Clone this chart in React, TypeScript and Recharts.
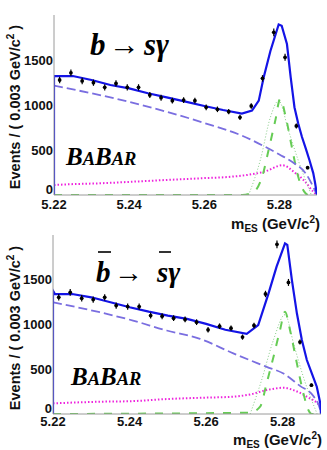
import React from 'react';
import { ComposedChart, Line, Scatter, ErrorBar, XAxis, YAxis } from 'recharts';

// bin centres, 0.003 GeV/c^2 wide
const binCenters = [
  5.2215, 5.2245, 5.2275, 5.2305, 5.2335, 5.2365, 5.2395, 5.2425, 5.2455, 5.2485, 5.2515, 5.2545,
  5.2575, 5.2605, 5.2635, 5.2665, 5.2695, 5.2725, 5.2755, 5.2785, 5.2815, 5.2845, 5.2875,
];
const topCounts = [
  1278, 1358, 1267, 1248, 1196, 1240, 1196, 1196, 1111, 1081, 1048, 1055,
  1048, 974, 952, 926, 863, 989, 1296, 1807, 1530, 767, 304,
];
const bottomCounts = [
  1304, 1359, 1293, 1278, 1304, 1211, 1200, 1200, 1100, 1093, 1070, 1056,
  1026, 941, 981, 959, 859, 989, 1341, 1896, 1470, 804, 322,
];
const countErrors = [
  36, 37, 36, 35, 35, 35, 35, 35, 33, 33, 32, 32,
  32, 31, 31, 30, 29, 31, 36, 43, 39, 28, 18,
];

// total fit
const topFitX = [5.22, 5.22, 5.225, 5.23, 5.235, 5.24, 5.245, 5.25, 5.255, 5.26, 5.265, 5.27, 5.2727, 5.2745, 5.2758, 5.2776, 5.2798, 5.2806, 5.282, 5.283, 5.284, 5.285, 5.286, 5.287, 5.288, 5.289, 5.2895, 5.29];
const topFitY = [0, 1320, 1322, 1278, 1222, 1185, 1130, 1085, 1037, 989, 944, 905, 938, 1048, 1306, 1600, 1895, 1880, 1677, 1306, 975, 795, 644, 518, 386, 243, 132, 0];
const bottomFitX = [5.22, 5.22, 5.2205, 5.225, 5.23, 5.235, 5.24, 5.245, 5.25, 5.255, 5.26, 5.265, 5.2706, 5.2736, 5.2763, 5.2784, 5.2806, 5.2812, 5.2824, 5.2837, 5.285, 5.2863, 5.2876, 5.2889, 5.2898, 5.29];
const bottomFitY = [0, 1378, 1340, 1341, 1304, 1248, 1193, 1144, 1100, 1063, 1007, 941, 896, 994, 1348, 1646, 1907, 1890, 1497, 1125, 827, 603, 455, 305, 123, 0];

// ARGUS combinatoric background
const topArgusX = [5.22, 5.23, 5.24, 5.25, 5.26, 5.27, 5.276, 5.28, 5.284, 5.287, 5.289, 5.29];
const topArgusY = [1215, 1130, 1035, 925, 800, 660, 540, 450, 350, 240, 90, 0];
const bottomArgusX = [5.22, 5.2322, 5.2409, 5.2497, 5.2584, 5.2671, 5.2758, 5.2802, 5.2845, 5.288, 5.2897, 5.29];
const bottomArgusY = [1248, 1137, 1044, 933, 840, 677, 527, 452, 314, 200, 60, 0];

// signal
const topSignalX = [5.22, 5.2701, 5.2732, 5.2754, 5.2771, 5.2789, 5.2802, 5.2817, 5.2833, 5.285, 5.2866, 5.2877, 5.29];
const topSignalY = [0, 0, 37, 202, 497, 828, 1067, 864, 533, 202, 37, 0, 0];
const bottomSignalX = [5.22, 5.2715, 5.2741, 5.2758, 5.2776, 5.2793, 5.2806, 5.2819, 5.2837, 5.2854, 5.2867, 5.2876, 5.29];
const bottomSignalY = [0, 15, 82, 343, 640, 939, 1143, 939, 566, 231, 45, 0, 0];

// thin dotted signal shape
const topSigAltX = [5.2718, 5.2749, 5.2776, 5.2798, 5.2824, 5.285, 5.2885];
const topSigAltY = [0, 386, 864, 1049, 717, 386, 0];
const bottomSigAltX = [5.2715, 5.2745, 5.2776, 5.2806, 5.283, 5.2855, 5.289];
const bottomSigAltY = [0, 380, 830, 1110, 760, 400, 0];

// peaking B background
const topPeakingX = [5.22, 5.2245, 5.2323, 5.2411, 5.2499, 5.2587, 5.2674, 5.2718, 5.2762, 5.2808, 5.2842, 5.2868, 5.289, 5.29];
const topPeakingY = [111, 120, 130, 148, 167, 185, 204, 225, 262, 330, 245, 150, 37, 0];
const bottomPeakingX = [5.22, 5.2322, 5.2409, 5.2497, 5.2584, 5.2671, 5.2715, 5.2758, 5.2802, 5.2828, 5.2863, 5.2898, 5.29];
const bottomPeakingY = [119, 137, 144, 167, 181, 193, 219, 267, 293, 267, 193, 81, 50];

const xLabelTicks = [5.22, 5.24, 5.26, 5.28];
const xMinorTicks = [5.225, 5.23, 5.235, 5.245, 5.25, 5.255, 5.265, 5.27, 5.275, 5.285];
const yLabelTicks = [0, 500, 1000, 1500];
const yMinorTicks = [100, 200, 300, 400, 600, 700, 800, 900, 1100, 1200, 1300, 1400, 1600, 1700, 1800, 1900];

const toPts = (xs: number[], ys: number[]) => xs.map((x, i) => ({ x, y: ys[i] }));

const sans = 'Liberation Sans, Arial, sans-serif';
const serif = 'Liberation Serif, Times New Roman, serif';
const xTickFont = { fontSize: 13, fontWeight: 'bold', fill: '#111', fontFamily: sans };
const frame = '#9a9a9a';
const tickCol = '#555';

const Dot = (props: any) => <circle cx={props.cx} cy={props.cy} r={1.9} fill="#000" />;

// y labels sit tight against the frame; the "0" is lifted so it clears the x labels
const YTick = (props: any) => {
  const { x, y, payload } = props;
  const lift = payload.value === 0 ? -6 : 0;
  return (
    <text x={x} y={y + lift} dy="0.36em" textAnchor="end" fontSize={13} fontWeight="bold" fill="#111" fontFamily={sans}>
      {payload.value}
    </text>
  );
};

interface PanelProps {
  counts: number[];
  fit: { x: number; y: number }[];
  argus: { x: number; y: number }[];
  signal: { x: number; y: number }[];
  sigAlt: { x: number; y: number }[];
  peaking: { x: number; y: number }[];
  height: number;
  margin: { top: number; right: number; bottom: number; left: number };
  yWidth: number;
  xGap: number;
}

const Panel = ({ counts, fit, argus, signal, sigAlt, peaking, height, margin, yWidth, xGap }: PanelProps) => {
  const points = binCenters.map((x, i) => ({ x, y: counts[i], err: countErrors[i] }));
  const dom: [number, number] = [5.22, 5.29];
  const ydom: [number, number] = [0, 2000];
  return (
    <ComposedChart width={327} height={height} margin={margin}>
      {/* inward frame ticks (zero size, declared first so they sit on the frame) */}
      <XAxis xAxisId="bMin" type="number" dataKey="x" domain={dom} allowDataOverflow orientation="bottom" mirror height={0}
        ticks={xMinorTicks} interval={0} tick={false} tickSize={4} axisLine={false} tickLine={{ stroke: tickCol }} />
      <XAxis xAxisId="bMaj" type="number" dataKey="x" domain={dom} allowDataOverflow orientation="bottom" mirror height={0}
        ticks={xLabelTicks} interval={0} tick={false} tickSize={7} axisLine={false} tickLine={{ stroke: tickCol }} />
      <XAxis xAxisId="tMin" type="number" dataKey="x" domain={dom} allowDataOverflow orientation="top" mirror height={0}
        ticks={xMinorTicks} interval={0} tick={false} tickSize={4} axisLine={{ stroke: frame }} tickLine={{ stroke: tickCol }} />
      <XAxis xAxisId="tMaj" type="number" dataKey="x" domain={dom} allowDataOverflow orientation="top" mirror height={0}
        ticks={xLabelTicks} interval={0} tick={false} tickSize={7} axisLine={false} tickLine={{ stroke: tickCol }} />
      <XAxis xAxisId="main" type="number" dataKey="x" domain={dom} allowDataOverflow height={20}
        ticks={xLabelTicks} interval={0} tickFormatter={(v: number) => v.toFixed(2)}
        tickSize={0} tickMargin={xGap} tickLine={false} axisLine={{ stroke: frame }} tick={xTickFont} />

      <YAxis yAxisId="lMin" type="number" domain={ydom} allowDataOverflow orientation="left" mirror width={0}
        ticks={yMinorTicks} interval={0} tick={false} tickSize={4} axisLine={false} tickLine={{ stroke: tickCol }} />
      <YAxis yAxisId="lMaj" type="number" domain={ydom} allowDataOverflow orientation="left" mirror width={0}
        ticks={yLabelTicks} interval={0} tick={false} tickSize={7} axisLine={false} tickLine={{ stroke: tickCol }} />
      <YAxis yAxisId="rMin" type="number" domain={ydom} allowDataOverflow orientation="right" mirror width={0}
        ticks={yMinorTicks} interval={0} tick={false} tickSize={4} axisLine={{ stroke: frame }} tickLine={{ stroke: tickCol }} />
      <YAxis yAxisId="rMaj" type="number" domain={ydom} allowDataOverflow orientation="right" mirror width={0}
        ticks={yLabelTicks} interval={0} tick={false} tickSize={7} axisLine={false} tickLine={{ stroke: tickCol }} />
      <YAxis yAxisId="main" type="number" domain={ydom} allowDataOverflow width={yWidth}
        ticks={yLabelTicks} interval={0} tickSize={0} tickMargin={1} tickLine={false}
        axisLine={{ stroke: frame }} tick={<YTick />} />

      <Line xAxisId="main" yAxisId="main" data={peaking} dataKey="y" type="monotone" stroke="#ee22dd"
        strokeWidth={2} strokeDasharray="1.5 2" dot={false} isAnimationActive={false} />
      <Line xAxisId="main" yAxisId="main" data={sigAlt} dataKey="y" type="monotone" stroke="#88cc88"
        strokeWidth={1} strokeDasharray="1 2" dot={false} isAnimationActive={false} />
      <Line xAxisId="main" yAxisId="main" data={signal} dataKey="y" type="monotone" stroke="#66cc55"
        strokeWidth={2} strokeDasharray="8 9" dot={false} isAnimationActive={false} />
      <Line xAxisId="main" yAxisId="main" data={argus} dataKey="y" type="monotone" stroke="#7a6ee0"
        strokeWidth={1.8} strokeDasharray="9 4" dot={false} isAnimationActive={false} />
      <Line xAxisId="main" yAxisId="main" data={fit} dataKey="y" type="linear" stroke="#1414e6"
        strokeWidth={2.2} dot={false} isAnimationActive={false} />
      <Scatter xAxisId="main" yAxisId="main" data={points} dataKey="y" shape={<Dot />} isAnimationActive={false}>
        <ErrorBar dataKey="err" direction="y" width={0} stroke="#000" strokeWidth={1.2} />
      </Scatter>
    </ComposedChart>
  );
};

const YTitle = ({ cy }: { cy: number }) => (
  <text transform="rotate(-90)" x={-cy} y={20} textAnchor="middle" fontSize={14.5}>
    Events / ( 0.003 GeV/c<tspan dy={-6} fontSize={10}>2</tspan><tspan dy={6}> )</tspan>
  </text>
);

const XTitle = ({ right, base }: { right: number; base: number }) => (
  <text x={right} y={base} textAnchor="end" fontSize={15}>
    m<tspan fontSize={10} dy={3}>ES</tspan><tspan dy={-3}> (GeV/c</tspan><tspan fontSize={10} dy={-6}>2</tspan><tspan dy={6}>)</tspan>
  </text>
);

const Babar = ({ x, y }: { x: number; y: number }) => (
  <text x={x} y={y} fontSize={25}>B<tspan fontSize={18.5}>A</tspan>B<tspan fontSize={18.5}>AR</tspan></text>
);

export default function App() {
  return (
    <div style={{ position: 'absolute', left: 0, top: 0, width: 327, height: 450, background: '#fff', fontFamily: sans }}>
      <div style={{ position: 'absolute', left: 0, top: 0 }}>
        <Panel
          counts={topCounts}
          fit={toPts(topFitX, topFitY)}
          argus={toPts(topArgusX, topArgusY)}
          signal={toPts(topSignalX, topSignalY)}
          sigAlt={toPts(topSigAltX, topSigAltY)}
          peaking={toPts(topPeakingX, topPeakingY)}
          height={225}
          margin={{ top: 15, right: 10, bottom: 10, left: 0 }}
          yWidth={54}
          xGap={5}
        />
      </div>
      <div style={{ position: 'absolute', left: 0, top: 225 }}>
        <Panel
          counts={bottomCounts}
          fit={toPts(bottomFitX, bottomFitY)}
          argus={toPts(bottomArgusX, bottomArgusY)}
          signal={toPts(bottomSignalX, bottomSignalY)}
          sigAlt={toPts(bottomSigAltX, bottomSigAltY)}
          peaking={toPts(bottomPeakingX, bottomPeakingY)}
          height={225}
          margin={{ top: 10, right: 6, bottom: 16, left: 0 }}
          yWidth={53}
          xGap={3}
        />
      </div>
      <svg width={327} height={450} style={{ position: 'absolute', left: 0, top: 0, pointerEvents: 'none' }}>
        {/* axis titles */}
        <g fontFamily={sans} fontWeight="bold" fill="#111">
          <YTitle cy={107} />
          <YTitle cy={328} />
          <XTitle right={320} base={229} />
          <XTitle right={322} base={445} />
        </g>
        {/* process labels */}
        <g fontFamily={serif} fontStyle="italic" fontWeight="bold" fill="#000">
          <text y={55} fontSize={31}>
            <tspan x={90}>b</tspan><tspan x={109}>→</tspan><tspan x={144}>sγ</tspan>
          </text>
          <text y={282} fontSize={29}>
            <tspan x={96}>b</tspan><tspan x={114}>→</tspan><tspan x={157}>sγ</tspan>
          </text>
          <Babar x={66} y={165} />
          <Babar x={71} y={385} />
        </g>
        <line x1={98} x2={111} y1={252} y2={252} stroke="#000" strokeWidth={1.6} />
        <line x1={159} x2={171} y1={252} y2={252} stroke="#000" strokeWidth={1.6} />
      </svg>
    </div>
  );
}
